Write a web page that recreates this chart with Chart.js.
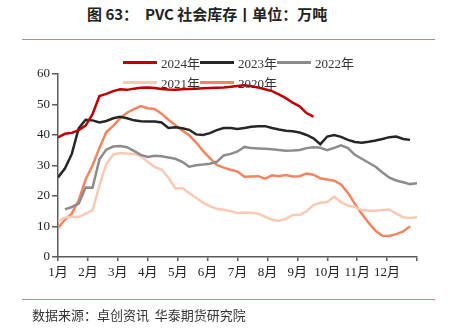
<!DOCTYPE html>
<html lang="zh">
<head>
  <meta charset="UTF-8">
  <title>PVC 社会库存</title>
  <script src="https://cdn.jsdelivr.net/npm/chart.js"></script>
  <style>
    body {
      margin: 0;
      background: #fff;
      width: 451px;
      height: 331px;
      position: relative;
      overflow: hidden;
      font-family: 'Noto Sans CJK SC', sans-serif;
    }
    .title {
      position: absolute;
      left: 87px;
      top: 3px;
      font-size: 15px;
      font-weight: bold;
      color: #222;
      white-space: pre;
    }
    .rule {
      position: absolute;
      left: 22px;
      width: 413px;
      height: 0;
      border-top: 1.5px solid #d77b7b;
    }
    .source {
      position: absolute;
      left: 32px;
      top: 305px;
      font-size: 13px;
      color: #333;
      white-space: pre;
    }
    #chart {
      position: absolute;
      left: 0;
      top: 0;
    }
    .legend {
      position: absolute;
      left: 123px;
      top: 52px;
      width: 240px;
      font-family: 'Liberation Serif', 'Noto Sans CJK SC', serif;
      font-size: 13px;
      color: #333;
    }
    .legend .item {
      display: inline-flex;
      align-items: center;
      width: 77px;
      height: 19px;
      white-space: nowrap;
    }
    .legend .swatch {
      display: inline-block;
      width: 34px;
      height: 3px;
      margin-right: 4px;
    }
  </style>
</head>
<body>
  <div class="title">图 63：  PVC 社会库存丨单位：万吨</div>
  <div class="rule" style="top:39px"></div>
  <canvas id="chart" width="451" height="331"></canvas>
  <div class="legend" id="legend"></div>
  <div class="rule" style="top:299px"></div>
  <div class="source">数据来源：卓创资讯  华泰期货研究院</div>

  <script>
    // weekly stock, 万吨 (week 0 = start of January)
    const monthLabels = ['1月', '2月', '3月', '4月', '5月', '6月', '7月', '8月', '9月', '10月', '11月', '12月'];
    const seriesNames = ['2024年', '2023年', '2022年', '2021年', '2020年'];
    const seriesColors = ['#c00000', '#262626', '#8c8c8c', '#f9c9b3', '#f3845f'];

    const stock2024 = [39.2, 40.4, 40.7, 41.6, 43.1, 46.8, 52.8, 53.5, 54.4, 55.0, 54.8, 55.2, 55.5, 55.6, 55.4, 55.1,
      54.9, 54.8, 55.0, 55.1, 55.2, 55.3, 55.4, 55.5, 55.6, 55.8, 56.1, 56.3, 56.0, 55.6, 55.0, 54.4,
      53.3, 52.1, 50.6, 49.4, 47.2, 46.0];
    const stock2023 = [26.1, 29.0, 33.8, 42.2, 45.0, 44.8, 44.1, 44.6, 45.5, 46.0, 45.5, 44.8, 44.5, 44.4, 44.4, 44.1,
      42.3, 42.5, 42.2, 41.7, 40.2, 40.0, 40.6, 41.6, 42.3, 42.3, 42.0, 42.3, 42.7, 42.9, 42.9, 42.3,
      41.8, 41.4, 41.2, 40.8, 40.0, 38.9, 37.0, 39.5, 40.0, 39.4, 38.4, 37.7, 37.5, 37.8, 38.2, 38.7,
      39.3, 39.5, 38.7, 38.4];
    const stock2022 = [null, 15.6, 16.4, 17.5, 22.8, 22.7, 32.0, 35.2, 36.2, 36.4, 36.0, 34.8, 33.5, 32.8, 33.2, 33.0,
      32.6, 32.2, 31.2, 29.6, 30.1, 30.3, 30.6, 31.2, 33.3, 33.8, 34.6, 36.1, 35.7, 35.6, 35.5, 35.3,
      35.1, 34.8, 34.9, 35.1, 35.7, 36.0, 35.8, 35.0, 35.8, 36.6, 35.7, 33.5, 32.2, 30.9, 29.6, 27.7,
      26.0, 25.1, 24.5, 23.9, 24.2];
    const stock2021 = [11.6, 12.9, 13.2, 13.1, 14.2, 15.3, 23.5, 30.5, 33.6, 34.1, 33.9, 33.8, 33.0, 31.2, 29.5, 28.7,
      26.0, 22.5, 22.6, 21.0, 19.4, 17.8, 16.7, 15.8, 15.5, 15.0, 14.4, 14.6, 14.5, 14.2, 13.2, 12.2,
      11.9, 12.5, 13.8, 13.8, 15.0, 17.0, 17.8, 18.0, 19.8, 18.0, 16.9, 16.4, 15.4, 15.2, 15.2, 15.4,
      15.6, 14.2, 13.0, 12.8, 13.0];
    const stock2020 = [9.5, 12.2, 14.2, 18.6, 25.4, 30.0, 35.7, 41.0, 43.0, 45.5, 47.3, 48.5, 49.5, 48.8, 48.5, 47.0,
      45.0, 43.2, 41.5, 39.9, 37.6, 34.8, 32.4, 30.2, 29.3, 28.6, 28.0, 26.3, 26.4, 26.5, 25.7, 26.8,
      26.5, 26.9, 26.4, 26.5, 27.4, 27.0, 25.8, 25.4, 25.0, 23.8, 21.0, 17.4, 14.2, 11.2, 8.6, 7.0,
      6.9, 7.5, 8.4, 10.1];

    const allSeries = [stock2024, stock2023, stock2022, stock2021, stock2020];
    const weeksPerYear = 52;

    // x is measured in months so the ticks land on month starts
    function toPoints(values) {
      return values.map((v, i) => ({ x: i * 12 / weeksPerYear, y: v }));
    }

    const axisColor = '#5a5a5a';
    const tickFont = { family: "'Liberation Serif', 'Noto Sans CJK SC', serif", size: 13 };

    const chart = new Chart(document.getElementById('chart'), {
      type: 'line',
      data: {
        datasets: allSeries.map((values, k) => ({
          label: seriesNames[k],
          data: toPoints(values),
          borderColor: seriesColors[k],
          backgroundColor: seriesColors[k],
          borderWidth: 2.5,
          pointRadius: 0,
          tension: 0,
          fill: false
        }))
      },
      options: {
        responsive: false,
        animation: false,
        layout: { padding: { top: 74, right: 34, bottom: 44, left: 0 } },
        plugins: {
          legend: { display: false },
          tooltip: { enabled: false }
        },
        scales: {
          x: {
            type: 'linear',
            min: 0,
            max: 12,
            afterFit: s => { s.height = 30; },
            grid: { drawOnChartArea: false, drawTicks: true, tickLength: 4, color: axisColor, lineWidth: 1.5 },
            border: { display: true, color: axisColor, width: 1.5 },
            ticks: {
              stepSize: 1,
              autoSkip: false,
              maxRotation: 0,
              padding: 4,
              color: '#222',
              font: tickFont,
              callback: v => monthLabels[v] || ''
            }
          },
          y: {
            min: 0,
            max: 60,
            afterFit: s => { s.width = 58; },
            grid: { drawOnChartArea: false, drawTicks: true, tickLength: 6, color: axisColor, lineWidth: 1.5 },
            border: { display: true, color: axisColor, width: 1.5 },
            ticks: { stepSize: 10, padding: 2, color: '#222', font: tickFont }
          }
        }
      }
    });

    // legend: three items on the first row, the rest below
    const legendEl = document.getElementById('legend');
    chart.data.datasets.forEach(ds => {
      const item = document.createElement('span');
      item.className = 'item';
      const sw = document.createElement('span');
      sw.className = 'swatch';
      sw.style.background = ds.borderColor;
      item.appendChild(sw);
      item.appendChild(document.createTextNode(ds.label));
      legendEl.appendChild(item);
    });
  </script>
</body>
</html>
